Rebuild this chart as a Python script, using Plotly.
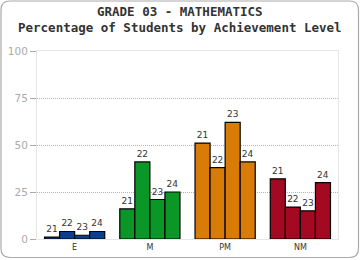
import plotly.graph_objects as go

categories = ["E", "M", "PM", "NM"]
years = ["21", "22", "23", "24"]
values = {
    "21": [1, 16, 51, 32],
    "22": [4, 41, 38, 17],
    "23": [2, 21, 62, 15],
    "24": [4, 25, 41, 30],
}
cat_colors = ["#0b3f8e", "#0b9628", "#d87c07", "#a30a22"]
y_ticks = [0, 25, 50, 75, 100]
title_lines = ["GRADE 03 - MATHEMATICS", "Percentage of Students by Achievement Level"]

fig = go.Figure()
for yr in years:
    fig.add_trace(go.Bar(
        x=categories, y=values[yr], name=yr,
        marker=dict(color=cat_colors, line=dict(color="#000000", width=1.2)),
        text=[yr] * len(categories), textposition="outside",
        textfont=dict(family="DejaVu Sans", size=9, color="#333333"),
        cliponaxis=False,
    ))

W, H = 360, 260
l, r, t, b = 37, 22, 51, 21
pw, ph = W - l - r, H - t - b

def px(x):
    return (x - l) / pw

def py(y):
    return (H - b - y) / ph

x0, x1, y0, y1, rad = 1, 358.5, 1, 257.5, 9
path = (f"M {px(x0+rad)},{py(y0)} L {px(x1-rad)},{py(y0)} "
        f"Q {px(x1)},{py(y0)} {px(x1)},{py(y0+rad)} L {px(x1)},{py(y1-rad)} "
        f"Q {px(x1)},{py(y1)} {px(x1-rad)},{py(y1)} L {px(x0+rad)},{py(y1)} "
        f"Q {px(x0)},{py(y1)} {px(x0)},{py(y1-rad)} L {px(x0)},{py(y0+rad)} "
        f"Q {px(x0)},{py(y0)} {px(x0+rad)},{py(y0)} Z")

annotations = [dict(
    text="<br>".join(f"<b>{s}</b>" for s in title_lines),
    xref="paper", yref="paper",
    x=px(180), y=py(20), xanchor="center", yanchor="middle",
    showarrow=False, borderpad=0, align="center",
    font=dict(family="DejaVu Sans Mono", size=12.5, color="#333333"),
)]

fig.update_layout(
    width=W, height=H,
    margin=dict(l=l, r=r, t=t, b=b, pad=0),
    barmode="group", bargap=0.2, bargroupgap=0,
    showlegend=False,
    plot_bgcolor="white", paper_bgcolor="white",
    annotations=annotations,
    xaxis=dict(
        showgrid=False, showline=True, linecolor="#e6e6e6", linewidth=1, mirror=True,
        ticks="", tickfont=dict(family="DejaVu Sans", size=8, color="#333333"),
        fixedrange=True, automargin=False,
    ),
    yaxis=dict(
        range=[0, 100], tickvals=y_ticks, ticks="outside", ticklen=6, tickcolor="#aaaaaa",
        tickfont=dict(family="DejaVu Sans", size=10.5, color="#aaaaaa"),
        showgrid=True, gridcolor="#b4b4b4", griddash="1px,1px", gridwidth=1,
        showline=True, linecolor="#e6e6e6", linewidth=1, mirror=True,
        zeroline=False, fixedrange=True, automargin=False,
    ),
    shapes=[dict(type="path", path=path, xref="paper", yref="paper",
                 line=dict(color="#aaaaaa", width=1.2), layer="below")],
)
fig.write_html("out.html")
